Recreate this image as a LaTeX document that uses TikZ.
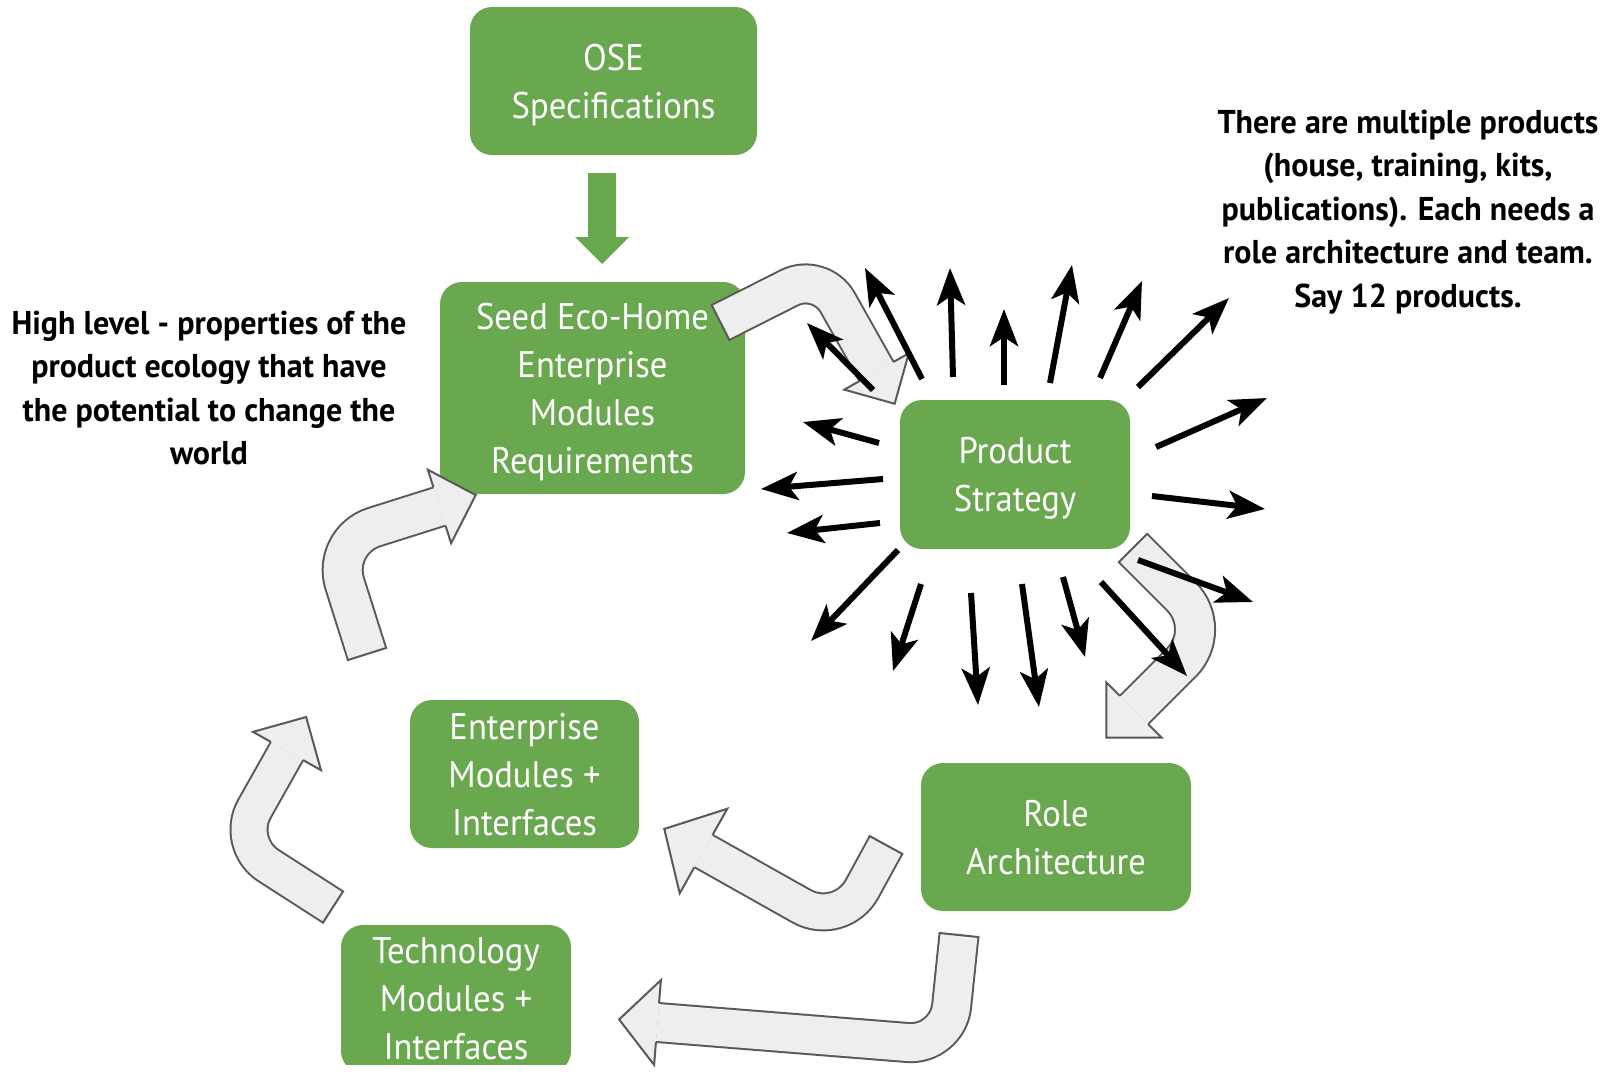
\documentclass[tikz,border=0pt]{standalone}
\usepackage{fontspec}
\setmainfont{PT Sans}[FakeStretch=0.935]
\newfontfamily\notefont{PT Sans}[FakeStretch=0.97]
\usetikzlibrary{arrows.meta,calc}

\definecolor{boxgreen}{HTML}{6AA84F}
\definecolor{bendfill}{HTML}{EEEEEE}
\definecolor{bendline}{HTML}{595959}

\tikzset{
  stagebox/.style={fill=boxgreen, draw=none, rounded corners=22pt, text=white,
    align=center, inner sep=0pt, text depth=0pt, font=\fontsize{37}{48}\selectfont},
  ray/.style={line width=6pt, -{Stealth[length=37pt,width=28pt,inset=9pt]}},
  note/.style={align=center, inner sep=0pt, font=\notefont\bfseries\fontsize{33}{43.5}\selectfont},
}

% Hollow bent arrow: #1 name, #2 tail centre, #3 bend, #4 head base centre,
% #5 shaft width, #6 bend radius, #7 head length, #8 head half-width
\newcommand{\bentarrow}[8]{%
  \coordinate (#1-t) at #2;
  \coordinate (#1-c) at #3;
  \coordinate (#1-b) at #4;
  \coordinate (#1-p) at ($(#1-b)!-#7pt!(#1-c)$);
  \coordinate (#1-w1) at ($(#1-b)!#8pt!90:(#1-c)$);
  \coordinate (#1-w2) at ($(#1-b)!#8pt!-90:(#1-c)$);
  \coordinate (#1-s1) at ($(#1-b)!#5pt/2!90:(#1-c)$);
  \coordinate (#1-s2) at ($(#1-b)!#5pt/2!-90:(#1-c)$);
  \coordinate (#1-e1) at ($(#1-t)!#5pt/2+1pt!90:(#1-c)$);
  \coordinate (#1-e2) at ($(#1-t)!#5pt/2+1pt!-90:(#1-c)$);
  \draw[bendline, line width=#5pt+2pt, rounded corners=#6pt] (#1-t) -- (#1-c) -- (#1-b);
  \draw[bendfill, line width=#5pt-2pt, rounded corners=#6pt] (#1-t) -- (#1-c) -- (#1-b);
  \fill[bendfill] (#1-w1) -- (#1-p) -- (#1-w2) -- cycle;
  \draw[bendline, line width=2pt, line join=miter] (#1-s1) -- (#1-w1) -- (#1-p) -- (#1-w2) -- (#1-s2);
  \draw[bendline, line width=2pt] (#1-e1) -- (#1-e2);
}

\begin{document}
\begin{tikzpicture}[x=1pt, y=-1pt]
  \useasboundingbox (0,0) rectangle (1614,1071);
  \fill[white] (0,0) rectangle (1614,1071);

  % stages
  \node[stagebox, minimum width=287pt, minimum height=148pt] (ose) at (613.5,81) {OSE\\Specifications};
  \node[stagebox, minimum width=305pt, minimum height=212pt] (seed) at (592.5,388)
    {Seed Eco-Home\\Enterprise\\Modules\\Requirements};
  \node[stagebox, minimum width=230pt, minimum height=149pt] (strategy) at (1015,474.5) {Product\\Strategy};
  \node[stagebox, minimum width=270pt, minimum height=148pt] (role) at (1056,837) {Role\\Architecture};
  \node[stagebox, minimum width=229pt, minimum height=148pt] (emod) at (524.5,774) {Enterprise\\Modules +\\Interfaces};
  \begin{scope}
    \clip (0,0) rectangle (1614,1064);
    \node[stagebox, minimum width=230pt, minimum height=148pt] (tmod) at (456,999) {Technology\\Modules +\\Interfaces};
  \end{scope}

  % solid arrow below the specifications
  \fill[boxgreen] (588,173) -- (616,173) -- (616,237) -- (629,237) -- (602,264)
    -- (575,237) -- (588,237) -- cycle;

  % cycle of hollow bent arrows
  \bentarrow{ba}{(720.5,322.5)}{(820.5,272)}{(876.5,371.5)}{39}{35}{37}{37}
  \bentarrow{bb}{(1133,548)}{(1214.5,629.5)}{(1134,710)}{40}{47}{39}{39}
  \bentarrow{bc}{(886,845)}{(840.6,928.2)}{(703.5,851)}{37}{45}{45}{48.5}
  \bentarrow{bd}{(959,935)}{(947.5,1045.7)}{(657.5,1022.5)}{39}{40}{38.5}{42.5}
  \bentarrow{be}{(333,907)}{(234.7,843.8)}{(287,751)}{37}{40}{39}{39}
  \bentarrow{bf}{(367,654)}{(331.2,540.7)}{(439.5,506.5)}{40}{45}{38}{38.5}

  % rays around the product strategy
  \foreach \xa/\ya/\xb/\yb in {
      922/379/865/268, 873/390/807/323, 953/377/950/268, 1004/385/1004/309,
      1050/383/1072/265, 1100/378/1142/281, 1138/387/1229/298, 1156/447/1267/398,
      1152/496/1265/509, 1138/560/1253/602, 1101/582/1187/676, 1063/577/1085/657,
      1022/584/1039/707, 971/593/978/705, 921/584/893/671, 898/550/811/641,
      880/523/787/533, 883/479/761/489, 879/443/803/422}
    \draw[ray] (\xa,\ya) -- (\xb,\yb);

  % notes
  \node[note] (ecology) at (209,388)
    {High level - properties of the\\product ecology that have\\the potential to change the\\world};
  \node[note] (products) at (1408,212)
    {There are multiple products\\(house, training, kits,\\publications). Each needs a\\role architecture and team.\\Say 12 products.};
\end{tikzpicture}
\end{document}
